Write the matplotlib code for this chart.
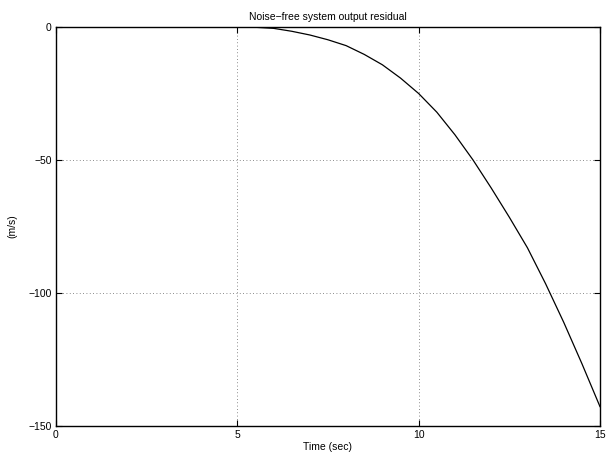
import matplotlib
matplotlib.use('Agg')
import matplotlib.pyplot as plt

# Valeurs
t = [0, 5, 5.5, 6, 6.5, 7, 7.5, 8, 8.5, 9, 9.5, 10, 10.5, 11, 11.5,
     12, 12.5, 13, 13.5, 14, 14.5, 15]
residual = [0, 0, -0.1, -0.5, -1.6, -3.0, -4.8, -7.0, -10.3, -14.2, -19.2,
            -25.0, -32.0, -40.5, -50.0, -60.5, -71.5, -83.0, -96.5, -111.0,
            -126.5, -142.7]

x_ticks = [0, 5, 10, 15]
y_ticks = [-150, -100, -50, 0]

plt.rcParams['font.family'] = ['Liberation Sans', 'DejaVu Sans']
plt.rcParams['font.size'] = 7.5

fig = plt.figure(figsize=(6.08, 4.61), dpi=100)
ax = fig.add_axes([0.0921, 0.0759, 0.8947, 0.8655])

ax.plot(t, residual, color='black', linewidth=0.9)

ax.set_xlim(0, 15)
ax.set_ylim(-150, 0)
ax.set_xticks(x_ticks)
ax.set_yticks(y_ticks)
ax.set_xticklabels([str(v) for v in x_ticks])
ax.set_yticklabels([str(v).replace('-', '\u2212') for v in y_ticks])

ax.grid(True, linestyle=(0, (1, 3)), color='#666666', linewidth=0.6)
ax.tick_params(direction='in', top=True, right=True, length=4, width=0.8, pad=3)
for s in ax.spines.values():
    s.set_linewidth(1.0)

ax.set_title('Noise\u2212free system output residual', fontsize=7.5, pad=5)
ax.set_xlabel('Time (sec)', labelpad=1)
ax.set_ylabel('(m/s)', labelpad=8)

fig.savefig('out.png', dpi=100)
